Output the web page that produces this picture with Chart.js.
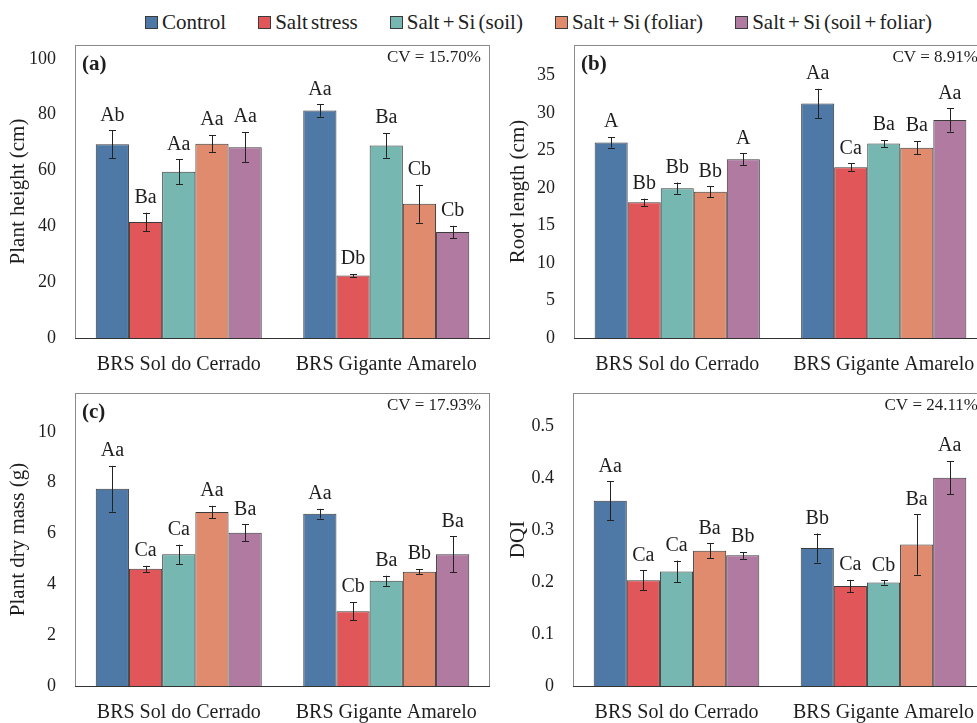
<!DOCTYPE html>
<html>
<head>
<meta charset="utf-8">
<script src="https://cdn.jsdelivr.net/npm/chart.js@4.4.1/dist/chart.umd.min.js"></script>
<style>
  html, body { margin: 0; padding: 0; background: #fff; overflow: hidden; width: 977px; height: 723px; }
  canvas { position: absolute; }
  #legend { position: absolute; left: 145px; top: 10px; display: flex; font-size: 21px; font-family: "Liberation Serif", "Times New Roman", Times, serif; color: #222; line-height: 24px; word-spacing: -2px; }
  .item { display: flex; align-items: center; margin-right: 32px; white-space: nowrap; }
  .swatch { width: 11px; height: 11px; border: 1px solid #3b3b3b; margin-right: 4px; }
</style>
</head>
<body>
<div id="legend"></div>
<canvas id="panelA" width="492" height="345" style="left:0px;top:40px"></canvas>
<canvas id="panelB" width="490" height="345" style="left:500px;top:40px"></canvas>
<canvas id="panelC" width="492" height="338" style="left:0px;top:385px"></canvas>
<canvas id="panelD" width="490" height="338" style="left:500px;top:385px"></canvas>
<script>
const categories = ["BRS Sol do Cerrado", "BRS Gigante Amarelo"];
const seriesNames = ["Control", "Salt stress", "Salt + Si (soil)", "Salt + Si (foliar)", "Salt + Si (soil + foliar)"];
const seriesColors = ["#4e79a7", "#e15759", "#76b7b2", "#e08b6d", "#b07aa1"];

// (a) altura de planta
const heightValues = [[69.4, 81.5], [41.6, 22.4], [59.6, 69.0], [69.6, 48.1], [68.4, 38.0]];
const heightErrors = [[5.0, 2.2], [3.3, 0.5], [4.4, 4.4], [3.1, 6.8], [5.4, 2.2]];
const heightLetters = [["Ab", "Aa"], ["Ba", "Db"], ["Aa", "Ba"], ["Aa", "Cb"], ["Aa", "Cb"]];
const heightTicks = [0, 20, 40, 60, 80, 100];

// (b) comprimento de raiz
const rootValues = [[26.1, 31.3], [18.1, 22.8], [20.0, 25.95], [19.5, 25.4], [23.85, 29.1]];
const rootErrors = [[0.7, 1.95], [0.5, 0.5], [0.75, 0.45], [0.75, 0.87], [0.8, 1.55]];
const rootLetters = [["A", "Aa"], ["Bb", "Ca"], ["Bb", "Ba"], ["Bb", "Ba"], ["A", "Aa"]];
const rootTicks = [0, 5, 10, 15, 20, 25, 30, 35];

// (c) massa seca
const massValues = [[7.76, 6.78], [4.61, 2.94], [5.18, 4.14], [6.85, 4.50], [6.03, 5.18]];
const massErrors = [[0.9, 0.19], [0.12, 0.36], [0.38, 0.2], [0.24, 0.1], [0.33, 0.71]];
const massLetters = [["Aa", "Aa"], ["Ca", "Cb"], ["Ca", "Ba"], ["Aa", "Bb"], ["Ba", "Ba"]];
const massTicks = [0, 2, 4, 6, 8, 10];

// (d) DQI
const dqiValues = [[0.356, 0.265], [0.203, 0.192], [0.220, 0.199], [0.260, 0.272], [0.251, 0.400]];
const dqiErrors = [[0.037, 0.028], [0.019, 0.012], [0.021, 0.004], [0.014, 0.058], [0.0065, 0.032]];
const dqiLetters = [["Aa", "Bb"], ["Ca", "Ca"], ["Ca", "Cb"], ["Ba", "Ba"], ["Bb", "Aa"]];
const dqiTicks = [0, 0.1, 0.2, 0.3, 0.4, 0.5];

const textColor = "#1e1e1e";
const serif = '"Liberation Serif", "Times New Roman", Times, serif';

// legenda em HTML
const legend = document.getElementById("legend");
seriesNames.forEach((name, i) => {
  legend.innerHTML += `<div class="item"><div class="swatch" style="background:${seriesColors[i]}"></div>${name}</div>`;
});

// barras de erro, letras, moldura e textos do painel
const marksPlugin = {
  id: "marks",
  afterDatasetsDraw(chart, args, opts) {
    const ctx = chart.ctx;
    const yScale = chart.scales.y;
    const area = chart.chartArea;
    ctx.save();

    // moldura da área do gráfico
    ctx.strokeStyle = "#8a8a8a";
    ctx.lineWidth = 1;
    ctx.strokeRect(area.left + 0.5, area.top + 0.5, area.right - area.left - 1, area.bottom - area.top);
    ctx.strokeStyle = "#333";
    ctx.beginPath();
    ctx.moveTo(area.left, area.bottom + 0.5);
    ctx.lineTo(area.right, area.bottom + 0.5);
    ctx.stroke();

    chart.data.datasets.forEach((ds, i) => {
      const meta = chart.getDatasetMeta(i);
      meta.data.forEach((bar, j) => {
        const v = ds.data[j];
        const e = opts.errors[i][j];
        const top = yScale.getPixelForValue(v + e);
        const bot = yScale.getPixelForValue(v - e);
        const x = Math.round(bar.x) + 0.5;
        ctx.strokeStyle = "#222";
        ctx.lineWidth = 1;
        ctx.beginPath();
        ctx.moveTo(x, top);
        ctx.lineTo(x, bot);
        ctx.moveTo(x - 3.5, Math.round(top) + 0.5);
        ctx.lineTo(x + 3.5, Math.round(top) + 0.5);
        ctx.moveTo(x - 3.5, Math.round(bot) + 0.5);
        ctx.lineTo(x + 3.5, Math.round(bot) + 0.5);
        ctx.stroke();

        ctx.fillStyle = textColor;
        ctx.font = `20px ${serif}`;
        ctx.textAlign = "center";
        ctx.textBaseline = "middle";
        ctx.fillText(opts.letters[i][j], bar.x, top - 15);
      });
    });

    if (opts.tag) {
      ctx.font = `bold 21px ${serif}`;
      ctx.textAlign = "left";
      ctx.textBaseline = "middle";
      ctx.fillText(opts.tag, area.left + 7, area.top + 20);
    }
    ctx.font = `17px ${serif}`;
    ctx.textAlign = "right";
    ctx.textBaseline = "middle";
    ctx.fillText(opts.cv, area.right - 9, area.top + 13);
    ctx.restore();
  }
};

function makePanel(id, cfg) {
  new Chart(document.getElementById(id), {
    type: "bar",
    data: {
      labels: categories,
      datasets: seriesNames.map((name, i) => ({
        label: name,
        data: cfg.values[i],
        backgroundColor: seriesColors[i],
        borderColor: "#3b3b3b",
        borderWidth: 1,
        barPercentage: 1,
        categoryPercentage: 0.8
      }))
    },
    options: {
      responsive: false,
      animation: false,
      devicePixelRatio: 1,
      layout: { padding: { top: cfg.padTop, right: cfg.padRight, left: 0, bottom: 0 } },
      plugins: {
        legend: { display: false },
        tooltip: { enabled: false },
        marks: { errors: cfg.errors, letters: cfg.letters, tag: cfg.tag, cv: cfg.cv }
      },
      scales: {
        x: {
          grid: { display: false, drawTicks: false },
          border: { display: false },
          ticks: { color: textColor, font: { family: serif, size: 20 }, padding: 15, maxRotation: 0 },
          afterFit: (scale) => {
            scale.height = cfg.xHeight;
            scale.paddingLeft = 0;
            scale.paddingRight = 0;
          }
        },
        y: {
          min: 0,
          max: cfg.max,
          grid: { display: false, drawTicks: false },
          border: { display: false },
          afterBuildTicks: (scale) => { scale.ticks = cfg.ticks.map((v) => ({ value: v })); },
          ticks: { color: textColor, font: { family: serif, size: 18 }, padding: 19, callback: (v) => String(v) },
          title: { display: !!cfg.title, text: cfg.title, color: textColor, font: { family: serif, size: 21 }, padding: { top: 6, bottom: 0 } },
          afterFit: (scale) => {
            scale.width = cfg.yWidth;
            scale.paddingTop = 0;
            scale.paddingBottom = 0;
          }
        }
      }
    },
    plugins: [marksPlugin]
  });
}

makePanel("panelA", {
  values: heightValues, errors: heightErrors, letters: heightLetters, ticks: heightTicks,
  max: 105, title: "Plant height (cm)", tag: "(a)", cv: "CV = 15.70%",
  padTop: 5, padRight: 2, yWidth: 75, xHeight: 47
});
makePanel("panelB", {
  values: rootValues, errors: rootErrors, letters: rootLetters, ticks: rootTicks,
  max: 39.1, title: "Root length (cm)", tag: "(b)", cv: "CV = 8.91%",
  padTop: 5, padRight: 3, yWidth: 74, xHeight: 47
});
makePanel("panelC", {
  values: massValues, errors: massErrors, letters: massLetters, ticks: massTicks,
  max: 11.53, title: "Plant dry mass (g)", tag: "(c)", cv: "CV = 17.93%",
  padTop: 8, padRight: 2, yWidth: 75, xHeight: 37
});
makePanel("panelD", {
  values: dqiValues, errors: dqiErrors, letters: dqiLetters, ticks: dqiTicks,
  max: 0.563, title: "DQI", tag: "", cv: "CV = 24.11%",
  padTop: 8, padRight: 3, yWidth: 73, xHeight: 37
});
</script>
</body>
</html>
